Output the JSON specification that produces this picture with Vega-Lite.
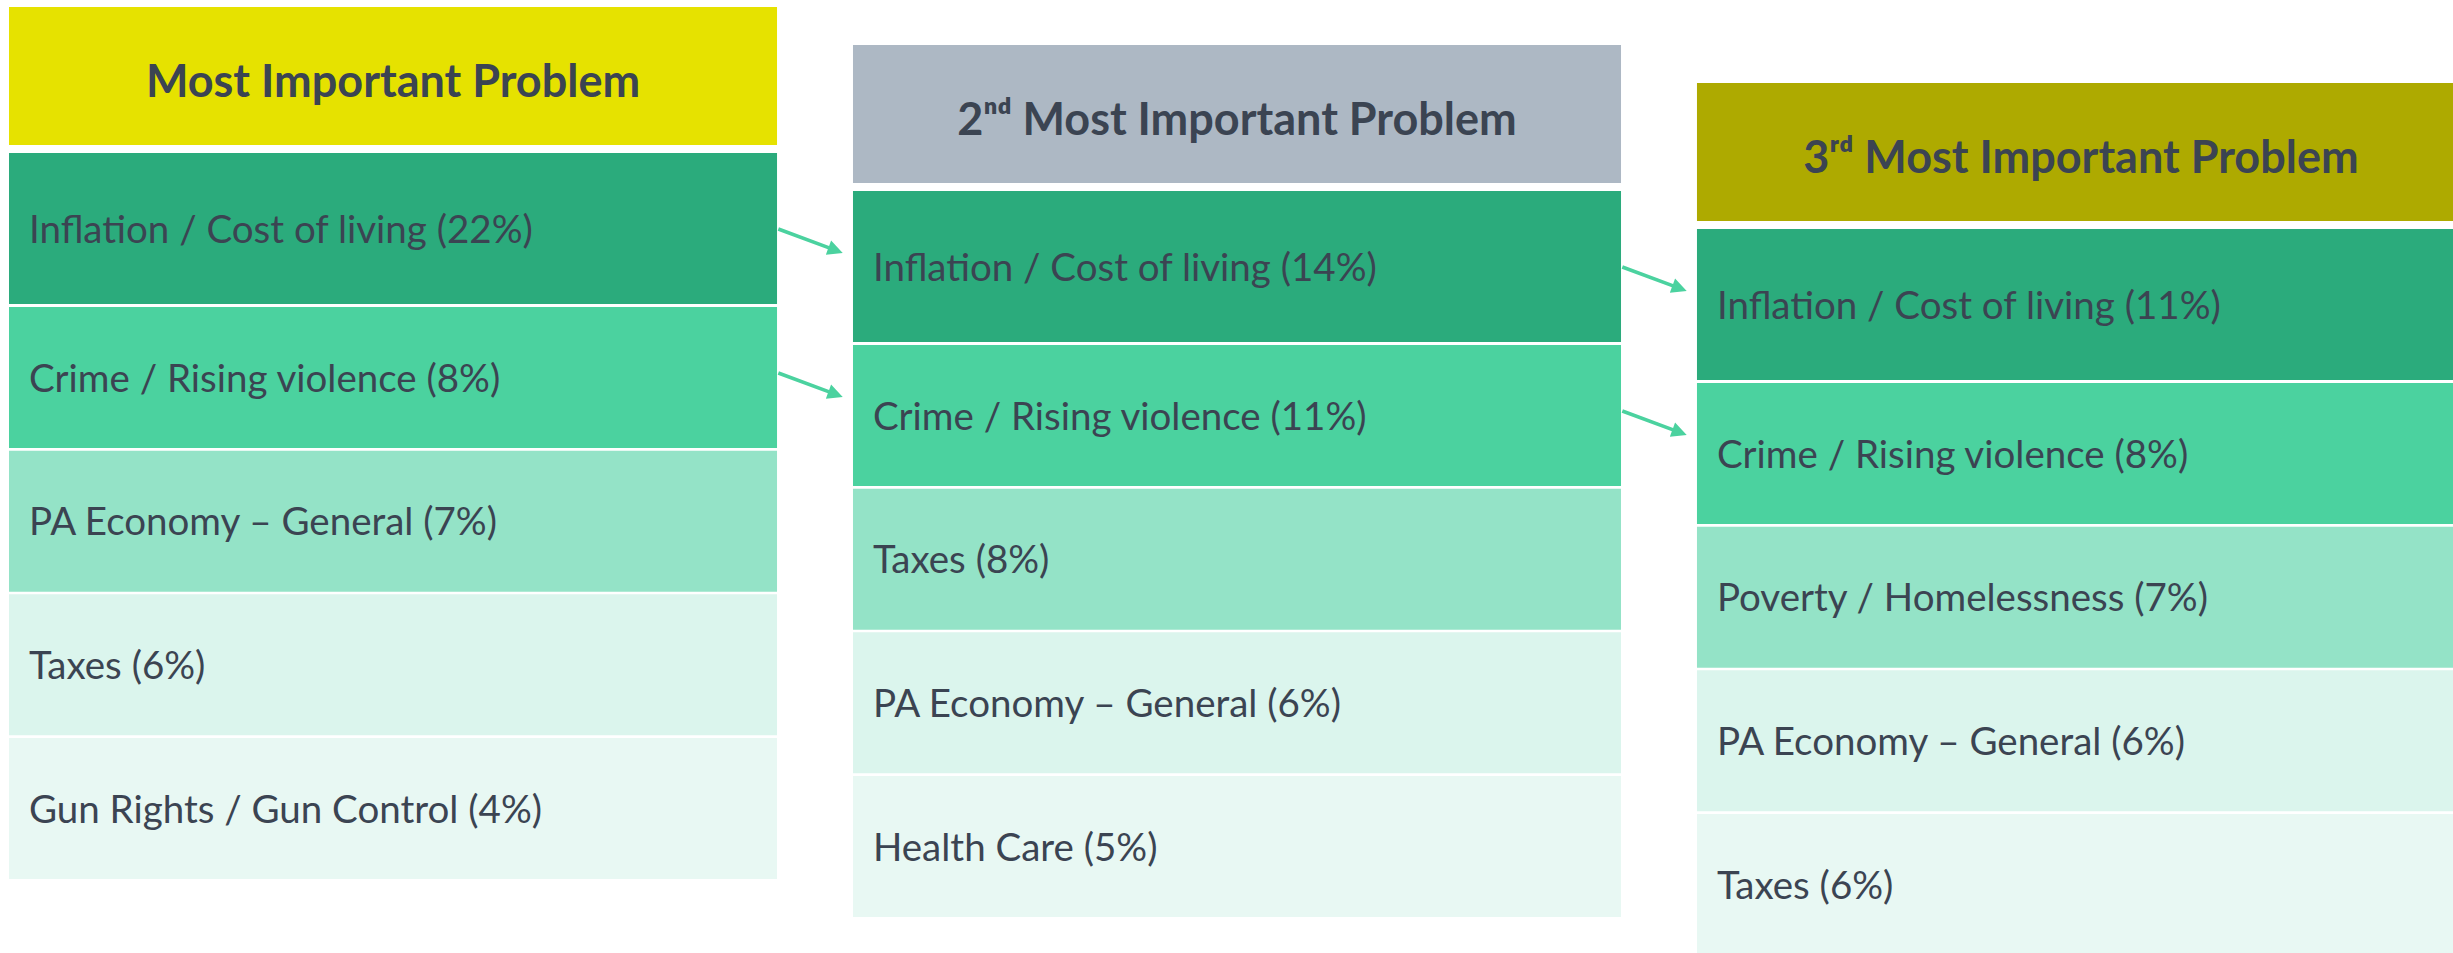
{
  "$schema": "https://vega.github.io/schema/vega-lite/v6.json",
  "width": 2453,
  "height": 953,
  "autosize": {"type": "none"},
  "padding": 0,
  "background": "white",
  "config": {"view": {"stroke": null}},
  "datasets": {
    "headers": [
      {"question": "Most Important Problem", "order": 1, "title": "Most Important Problem"},
      {"question": "2nd Most Important Problem", "order": 2, "title": "2ⁿᵈ Most Important Problem"},
      {"question": "3rd Most Important Problem", "order": 3, "title": "3ʳᵈ Most Important Problem"}
    ],
    "items": [
      {"question": "Most Important Problem", "order": 1, "rank": 1, "issue": "Inflation / Cost of living", "pct": 22},
      {"question": "Most Important Problem", "order": 1, "rank": 2, "issue": "Crime / Rising violence", "pct": 8},
      {"question": "Most Important Problem", "order": 1, "rank": 3, "issue": "PA Economy – General", "pct": 7},
      {"question": "Most Important Problem", "order": 1, "rank": 4, "issue": "Taxes", "pct": 6},
      {"question": "Most Important Problem", "order": 1, "rank": 5, "issue": "Gun Rights / Gun Control", "pct": 4},
      {"question": "2nd Most Important Problem", "order": 2, "rank": 1, "issue": "Inflation / Cost of living", "pct": 14},
      {"question": "2nd Most Important Problem", "order": 2, "rank": 2, "issue": "Crime / Rising violence", "pct": 11},
      {"question": "2nd Most Important Problem", "order": 2, "rank": 3, "issue": "Taxes", "pct": 8},
      {"question": "2nd Most Important Problem", "order": 2, "rank": 4, "issue": "PA Economy – General", "pct": 6},
      {"question": "2nd Most Important Problem", "order": 2, "rank": 5, "issue": "Health Care", "pct": 5},
      {"question": "3rd Most Important Problem", "order": 3, "rank": 1, "issue": "Inflation / Cost of living", "pct": 11},
      {"question": "3rd Most Important Problem", "order": 3, "rank": 2, "issue": "Crime / Rising violence", "pct": 8},
      {"question": "3rd Most Important Problem", "order": 3, "rank": 3, "issue": "Poverty / Homelessness", "pct": 7},
      {"question": "3rd Most Important Problem", "order": 3, "rank": 4, "issue": "PA Economy – General", "pct": 6},
      {"question": "3rd Most Important Problem", "order": 3, "rank": 5, "issue": "Taxes", "pct": 6}
    ]
  },
  "encoding": {
    "x": {
      "field": "question", "type": "nominal", "axis": null,
      "scale": {
        "domain": ["Most Important Problem", "2nd Most Important Problem", "3rd Most Important Problem"],
        "range": [9, 2465], "paddingInner": 0.09, "paddingOuter": 0
      }
    }
  },
  "layer": [
    {
      "data": {"name": "headers"},
      "encoding": {
        "y": {"datum": "header", "type": "nominal", "axis": null,
              "scale": {"domain": ["header"], "range": [7, 145], "paddingInner": 0, "paddingOuter": 0}},
        "yOffset": {"field": "order", "type": "quantitative", "scale": {"domain": [1, 3], "range": [69, 145], "nice": false, "zero": false}}
      },
      "layer": [
        {
          "mark": {"type": "rect", "height": 138},
          "encoding": {
            "color": {"field": "question", "type": "nominal", "legend": null,
                      "scale": {"domain": ["Most Important Problem", "2nd Most Important Problem", "3rd Most Important Problem"],
                                "range": ["#e6e200", "#adb8c4", "#aeaa00"]}}
          }
        },
        {
          "mark": {"type": "text", "font": "Lato", "fontWeight": "bold", "fontSize": 45, "color": "#3b4452", "align": "center", "baseline": "middle", "dy": 7},
          "encoding": {
            "x": {"field": "question", "type": "nominal", "bandPosition": 0.5},
            "text": {"field": "title"}
          }
        }
      ]
    },
    {
      "data": {"name": "items"},
      "transform": [
        {"filter": "datum.rank == 1"},
        {"calculate": "datum.issue + ' (' + datum.pct + '%)'", "as": "label"}
      ],
      "encoding": {
        "y": {"field": "rank", "type": "ordinal", "axis": null,
              "scale": {"domain": [1], "range": [153, 304], "paddingInner": 0, "paddingOuter": 0}},
        "yOffset": {"field": "order", "type": "quantitative", "scale": {"domain": [1, 3], "range": [75.5, 151.5], "nice": false, "zero": false}}
      },
      "layer": [
        {
          "mark": {"type": "rect", "height": 151},
          "encoding": {
            "color": {"field": "rank", "type": "ordinal", "legend": null,
                      "scale": {"domain": [1, 2, 3, 4, 5], "range": ["#2bab7c", "#4bd29f", "#94e3c7", "#dbf5ed", "#e8f8f3"]}}
          }
        },
        {
          "mark": {"type": "text", "font": "Lato", "fontSize": 38.5, "color": "#3b4452", "align": "left", "baseline": "middle", "dx": 20, "dy": 2},
          "encoding": {
            "x": {"field": "question", "type": "nominal", "bandPosition": 0},
            "text": {"field": "label"}
          }
        },
        {
          "transform": [{"filter": "datum.order < 3"}],
          "mark": {"type": "point", "filled": true, "size": 4, "opacity": 1, "color": "#4bd29f",
                   "shape": "M 1.93 -1.19 L 52.08 17.42 L 54.06 12.08 L 65.7 24.4 L 48.84 26.14 L 50.82 20.8 L 0.67 2.19 Z"},
          "encoding": {
            "x": {"field": "question", "type": "nominal", "bandPosition": 1}
          }
        }
      ]
    },
    {
      "data": {"name": "items"},
      "transform": [
        {"filter": "datum.rank >= 2"},
        {"calculate": "datum.issue + ' (' + datum.pct + '%)'", "as": "label"}
      ],
      "encoding": {
        "y": {"field": "rank", "type": "ordinal", "axis": null,
              "scale": {"domain": [2, 3, 4, 5], "range": [307, 879], "paddingInner": 0.0186, "paddingOuter": 0}},
        "yOffset": {"field": "order", "type": "quantitative", "scale": {"domain": [1, 3], "range": [70.5, 146.5], "nice": false, "zero": false}}
      },
      "layer": [
        {
          "mark": {"type": "rect", "height": 141},
          "encoding": {
            "color": {"field": "rank", "type": "ordinal", "legend": null,
                      "scale": {"domain": [1, 2, 3, 4, 5], "range": ["#2bab7c", "#4bd29f", "#94e3c7", "#dbf5ed", "#e8f8f3"]}}
          }
        },
        {
          "mark": {"type": "text", "font": "Lato", "fontSize": 38.5, "color": "#3b4452", "align": "left", "baseline": "middle", "dx": 20, "dy": 2},
          "encoding": {
            "x": {"field": "question", "type": "nominal", "bandPosition": 0},
            "text": {"field": "label"}
          }
        },
        {
          "transform": [{"filter": "datum.order < 3 && datum.rank == 2"}],
          "mark": {"type": "point", "filled": true, "size": 4, "opacity": 1, "color": "#4bd29f",
                   "shape": "M 1.93 -6.19 L 52.08 12.42 L 54.06 7.08 L 65.7 19.4 L 48.84 21.14 L 50.82 15.8 L 0.67 -2.81 Z"},
          "encoding": {
            "x": {"field": "question", "type": "nominal", "bandPosition": 1}
          }
        }
      ]
    }
  ],
  "resolve": {"scale": {"y": "independent", "yOffset": "independent", "color": "independent"}}
}
